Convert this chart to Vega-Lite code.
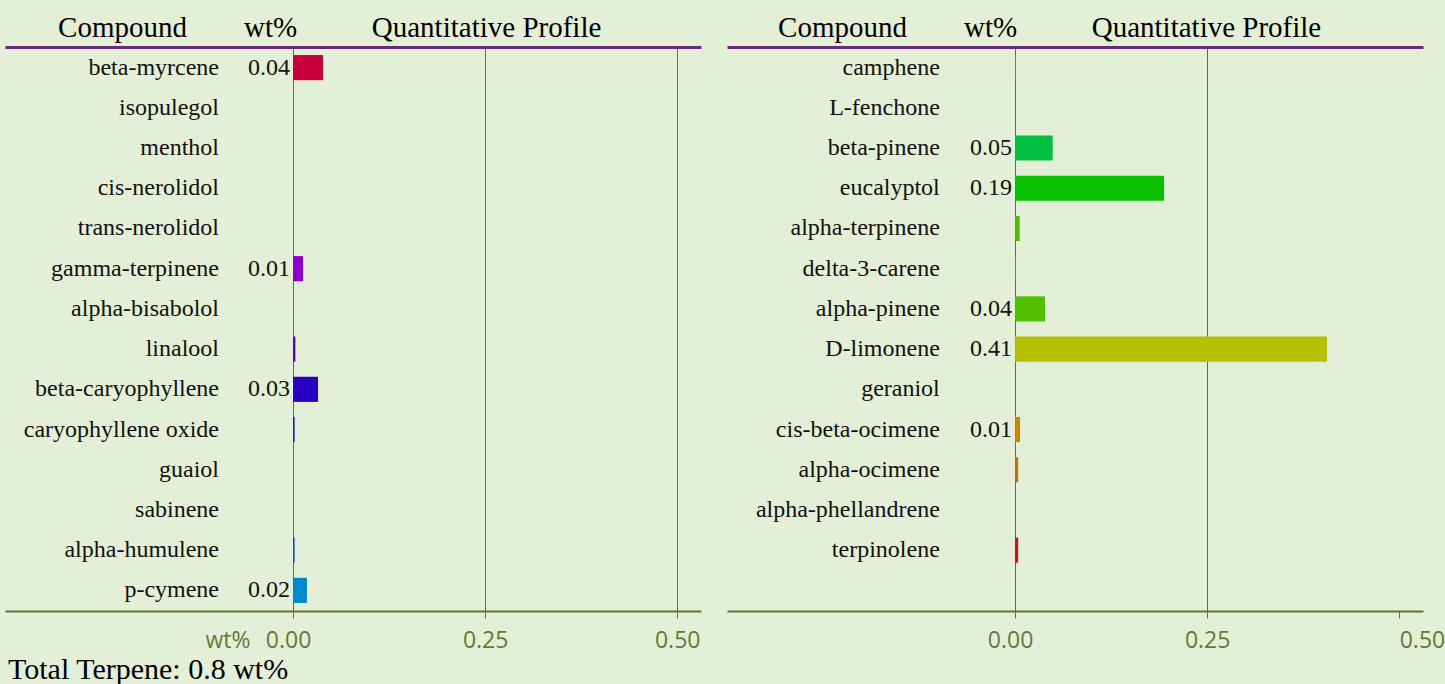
{
  "$schema": "https://vega.github.io/schema/vega-lite/v6.json",
  "background": "#e3efd6",
  "padding": {"left": 5, "right": 5, "top": 13, "bottom": 2},
  "config": {"view": {"stroke": null}},
  "title": {"text": "Total Terpene: 0.8 wt%", "orient": "bottom", "anchor": "start", "font": "Liberation Serif", "fontSize": 30, "fontWeight": "normal", "color": "#000000", "offset": 3, "dx": 3},
  "datasets": {
    "left": [
      {"compound": "beta-myrcene", "value": 0.039, "label": "0.04"},
      {"compound": "isopulegol", "value": 0, "label": ""},
      {"compound": "menthol", "value": 0, "label": ""},
      {"compound": "cis-nerolidol", "value": 0, "label": ""},
      {"compound": "trans-nerolidol", "value": 0, "label": ""},
      {"compound": "gamma-terpinene", "value": 0.013, "label": "0.01"},
      {"compound": "alpha-bisabolol", "value": 0, "label": ""},
      {"compound": "linalool", "value": 0.003, "label": ""},
      {"compound": "beta-caryophyllene", "value": 0.0325, "label": "0.03"},
      {"compound": "caryophyllene oxide", "value": 0.002, "label": ""},
      {"compound": "guaiol", "value": 0, "label": ""},
      {"compound": "sabinene", "value": 0, "label": ""},
      {"compound": "alpha-humulene", "value": 0.002, "label": ""},
      {"compound": "p-cymene", "value": 0.018, "label": "0.02"}
    ],
    "right": [
      {"compound": "camphene", "value": 0.001, "label": ""},
      {"compound": "L-fenchone", "value": 0, "label": ""},
      {"compound": "beta-pinene", "value": 0.049, "label": "0.05"},
      {"compound": "eucalyptol", "value": 0.194, "label": "0.19"},
      {"compound": "alpha-terpinene", "value": 0.006, "label": ""},
      {"compound": "delta-3-carene", "value": 0.001, "label": ""},
      {"compound": "alpha-pinene", "value": 0.039, "label": "0.04"},
      {"compound": "D-limonene", "value": 0.406, "label": "0.41"},
      {"compound": "geraniol", "value": 0, "label": ""},
      {"compound": "cis-beta-ocimene", "value": 0.0065, "label": "0.01"},
      {"compound": "alpha-ocimene", "value": 0.004, "label": ""},
      {"compound": "alpha-phellandrene", "value": 0, "label": ""},
      {"compound": "terpinolene", "value": 0.004, "label": ""}
    ]
  },
  "hconcat": [
    {
      "width": 696,
      "height": 564,
      "data": {"name": "left"},
      "layer": [
        {
          "mark": {"type": "bar"},
          "encoding": {
            "x": {"field": "value", "type": "quantitative", "scale": {"domain": [-0.375, 0.531], "nice": false},
              "axis": {"orient": "bottom", "values": [-0.0854, 0, 0.25, 0.5], "labelExpr": "datum.value < -0.01 ? 'wt%' : format(datum.value, '.2f')", "title": null,
                "grid": true, "gridColor": "#5d7233", "gridWidth": 1, "gridOpacity": {"condition": {"test": "datum.value < -0.01", "value": 0}, "value": 1},
                "tickColor": "#5d7233", "tickSize": 7, "tickOpacity": {"condition": {"test": "datum.value < -0.01", "value": 0}, "value": 1},
                "labelOffset": {"condition": {"test": "datum.value == 0", "value": -5}, "value": 0},
                "domainColor": "#5d7233", "domainWidth": 2, "labelFont": "Open Sans", "labelFontSize": 23, "labelColor": "#617a37", "labelPadding": 11, "labelFlush": false, "labelOverlap": false, "labelBound": false, "labelLimit": 0}},
            "y": {"field": "compound", "type": "nominal", "sort": null, "axis": null,
              "scale": {"domain": ["beta-myrcene", "isopulegol", "menthol", "cis-nerolidol", "trans-nerolidol", "gamma-terpinene", "alpha-bisabolol", "linalool", "beta-caryophyllene", "caryophyllene oxide", "guaiol", "sabinene", "alpha-humulene", "p-cymene"], "paddingInner": 0.375, "paddingOuter": 0.2}},
            "color": {"field": "compound", "type": "nominal", "legend": null,
              "scale": {"domain": ["beta-myrcene", "isopulegol", "menthol", "cis-nerolidol", "trans-nerolidol", "gamma-terpinene", "alpha-bisabolol", "linalool", "beta-caryophyllene", "caryophyllene oxide", "guaiol", "sabinene", "alpha-humulene", "p-cymene", "camphene", "L-fenchone", "beta-pinene", "eucalyptol", "alpha-terpinene", "delta-3-carene", "alpha-pinene", "D-limonene", "geraniol", "cis-beta-ocimene", "alpha-ocimene", "alpha-phellandrene", "terpinolene"],
                "range": ["#c5003d", "#c0008a", "#b000a8", "#a000b8", "#9400c4", "#8800cc", "#7000c8", "#5a00c4", "#2a00c0", "#1a14cc", "#1030cc", "#0040cc", "#0050cc", "#0088cc", "#00b0c8", "#00c090", "#00c040", "#08c000", "#4cc000", "#30c000", "#50c000", "#b4c000", "#c4a000", "#c88800", "#c87000", "#c84000", "#cc1010"]}}
          }
        },
        {
          "mark": {"type": "text", "align": "right", "baseline": "middle", "font": "Liberation Serif", "fontSize": 24, "color": "#111111"},
          "encoding": {
            "x": {"datum": -0.0964, "axis": {"orient": "top", "values": [-0.2227, -0.03, 0.2512], "labelExpr": "datum.value < -0.1 ? 'Compound' : datum.value < 0 ? 'wt%' : 'Quantitative Profile'", "title": null, "ticks": false, "grid": false, "domainColor": "#6b2a7a", "domainWidth": 3, "labelFont": "Liberation Serif", "labelFontSize": 29, "labelColor": "#000000", "labelPadding": 5, "labelFlush": false, "labelOverlap": false, "labelBound": false, "labelLimit": 0}},
            "y": {"field": "compound", "type": "nominal", "sort": null, "axis": null},
            "text": {"field": "compound"}
          }
        },
        {
          "mark": {"type": "text", "align": "right", "baseline": "middle", "dx": -3, "font": "Liberation Serif", "fontSize": 24, "color": "#111111"},
          "encoding": {
            "x": {"datum": 0, "axis": null},
            "y": {"field": "compound", "type": "nominal", "sort": null, "axis": null},
            "text": {"field": "label"}
          }
        }
      ],
      "resolve": {"axis": {"x": "independent"}}
    },
    {
      "width": 696,
      "height": 564,
      "data": {"name": "right"},
      "layer": [
        {
          "mark": {"type": "bar"},
          "encoding": {
            "x": {"field": "value", "type": "quantitative", "scale": {"domain": [-0.375, 0.531], "nice": false},
              "axis": {"orient": "bottom", "values": [0, 0.25, 0.5], "format": ".2f", "title": null,
                "grid": true, "gridColor": "#5d7233", "gridWidth": 1, "gridOpacity": {"condition": {"test": "datum.value > 0.4", "value": 0}, "value": 1},
                "tickColor": "#5d7233", "tickSize": 7,
                "labelAlign": {"condition": {"test": "datum.value > 0.4", "value": "left"}, "value": "center"},
                "labelOffset": {"condition": {"test": "datum.value == 0", "value": -5}, "value": 0},
                "domainColor": "#5d7233", "domainWidth": 2, "labelFont": "Open Sans", "labelFontSize": 23, "labelColor": "#617a37", "labelPadding": 11, "labelFlush": false, "labelOverlap": false, "labelBound": false, "labelLimit": 0}},
            "y": {"field": "compound", "type": "nominal", "sort": null, "axis": null,
              "scale": {"domain": ["camphene", "L-fenchone", "beta-pinene", "eucalyptol", "alpha-terpinene", "delta-3-carene", "alpha-pinene", "D-limonene", "geraniol", "cis-beta-ocimene", "alpha-ocimene", "alpha-phellandrene", "terpinolene", " "], "paddingInner": 0.375, "paddingOuter": 0.2}},
            "color": {"field": "compound", "type": "nominal", "legend": null,
              "scale": {"domain": ["beta-myrcene", "isopulegol", "menthol", "cis-nerolidol", "trans-nerolidol", "gamma-terpinene", "alpha-bisabolol", "linalool", "beta-caryophyllene", "caryophyllene oxide", "guaiol", "sabinene", "alpha-humulene", "p-cymene", "camphene", "L-fenchone", "beta-pinene", "eucalyptol", "alpha-terpinene", "delta-3-carene", "alpha-pinene", "D-limonene", "geraniol", "cis-beta-ocimene", "alpha-ocimene", "alpha-phellandrene", "terpinolene"],
                "range": ["#c5003d", "#c0008a", "#b000a8", "#a000b8", "#9400c4", "#8800cc", "#7000c8", "#5a00c4", "#2a00c0", "#1a14cc", "#1030cc", "#0040cc", "#0050cc", "#0088cc", "#00b0c8", "#00c090", "#00c040", "#08c000", "#4cc000", "#30c000", "#50c000", "#b4c000", "#c4a000", "#c88800", "#c87000", "#c84000", "#cc1010"]}}
          }
        },
        {
          "mark": {"type": "text", "align": "right", "baseline": "middle", "font": "Liberation Serif", "fontSize": 24, "color": "#111111"},
          "encoding": {
            "x": {"datum": -0.098, "axis": {"orient": "top", "values": [-0.2253, -0.0326, 0.2485], "labelExpr": "datum.value < -0.1 ? 'Compound' : datum.value < 0 ? 'wt%' : 'Quantitative Profile'", "title": null, "ticks": false, "grid": false, "domainColor": "#6b2a7a", "domainWidth": 3, "labelFont": "Liberation Serif", "labelFontSize": 29, "labelColor": "#000000", "labelPadding": 5, "labelFlush": false, "labelOverlap": false, "labelBound": false, "labelLimit": 0}},
            "y": {"field": "compound", "type": "nominal", "sort": null, "axis": null},
            "text": {"field": "compound"}
          }
        },
        {
          "mark": {"type": "text", "align": "right", "baseline": "middle", "dx": -3, "font": "Liberation Serif", "fontSize": 24, "color": "#111111"},
          "encoding": {
            "x": {"datum": 0, "axis": null},
            "y": {"field": "compound", "type": "nominal", "sort": null, "axis": null},
            "text": {"field": "label"}
          }
        }
      ],
      "resolve": {"axis": {"x": "independent"}}
    }
  ],
  "spacing": 26
}
